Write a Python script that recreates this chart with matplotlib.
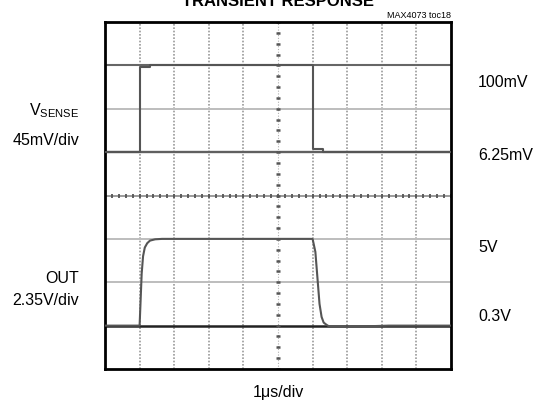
import matplotlib
matplotlib.use("Agg")
import matplotlib.pyplot as plt
import numpy as np

plt.rcParams['font.family'] = ['Liberation Sans', 'DejaVu Sans']

# Data (in screen divisions: x 0..10 div, y -4..4 div)
vs_x = [0, 1.0, 1.0, 1.3, 1.3, 6.02, 6.02, 6.3, 6.3, 10]
vs_y = [1, 1, 2.97, 2.97, 3, 3, 1.08, 1.08, 1.0, 1.0]

out_x = [0, 1.0, 1.03, 1.06, 1.1, 1.15, 1.22, 1.3, 1.45, 1.65, 6.0, 6.08, 6.14,
         6.2, 6.26, 6.32, 6.4, 6.5, 7.0, 8.2, 10]
out_y = [-3, -3, -2.4, -1.8, -1.4, -1.2, -1.1, -1.04, -1.01, -1.0, -1.0, -1.3, -1.9,
         -2.5, -2.8, -2.93, -2.98, -3.03, -3.03, -3.0, -3.0]

left_labels = [("V$_{\\mathregular{SENSE}}$", 1.95), ("45mV/div", 1.27),
               ("OUT", -1.92), ("2.35V/div", -2.42)]
right_labels = [("100mV", 2.6), ("6.25mV", 0.93), ("5V", -1.2), ("0.3V", -2.8)]

fig = plt.figure(figsize=(5.38, 4.05), dpi=100)
ax = fig.add_axes([105/538, 1-369/405, 346/538, 347/405])
ax.set_xlim(0, 10)
ax.set_ylim(-4, 4)
ax.set_xticks([]); ax.set_yticks([])
for s in ax.spines.values():
    s.set_linewidth(2.0)
    s.set_color('black')

# vertical dotted grid
for gx in range(1, 10):
    if gx == 5:
        continue
    ax.axvline(gx, color='#9a9a9a', lw=1.2, ls=(0, (1, 1)), zorder=1)

# horizontal grid
hcol = {3: '#666666', 2: '#bdbdbd', 1: '#606060', -1: '#bdbdbd', -2: '#bdbdbd', -3: '#222222'}
hlw = {3: 1.5, 2: 1.4, 1: 1.7, -1: 1.4, -2: 1.4, -3: 1.8}
for gy, c in hcol.items():
    ax.axhline(gy, color=c, lw=hlw[gy], zorder=1)

# center axes with minor ticks
ax.axvline(5, color='#b0b0b0', lw=0.8, ls=(0, (1, 1.5)), zorder=1)
ax.axhline(0, color='#8a8a8a', lw=1.2, zorder=1)
tx = np.arange(0, 10.01, 0.2)
ax.plot(tx, np.zeros_like(tx), ls='none', marker='|', ms=3.5, mew=1.3, color='#555555', zorder=2)
ty = np.arange(-4, 4.01, 0.25)
ax.plot(np.full_like(ty, 5), ty, ls='none', marker='_', ms=3, mew=1.8, color='#555555', zorder=2)

# traces
ax.plot(vs_x, vs_y, color='#555555', lw=1.5, zorder=3)
ax.plot(out_x, out_y, color='#555555', lw=1.5, zorder=3)

# texts
fig.text(278/538, 1-2/405, "TRANSIENT RESPONSE", ha='center', va='center',
         fontsize=12, fontweight='bold')
fig.text(451/538, 1-15/405, "MAX4073 toc18", ha='right', va='center', fontsize=6.5)
for t, yv in left_labels:
    ax.text(-0.75, yv, t, ha='right', va='center', fontsize=11.5)
for t, yv in right_labels:
    ax.text(7.8 if False else 10.78, yv, t, ha='left', va='center', fontsize=11.5)
fig.text(278/538, 1-393/405, "1\u03bcs/div", ha='center', va='center', fontsize=11.5)

fig.savefig("out.png", dpi=100)
